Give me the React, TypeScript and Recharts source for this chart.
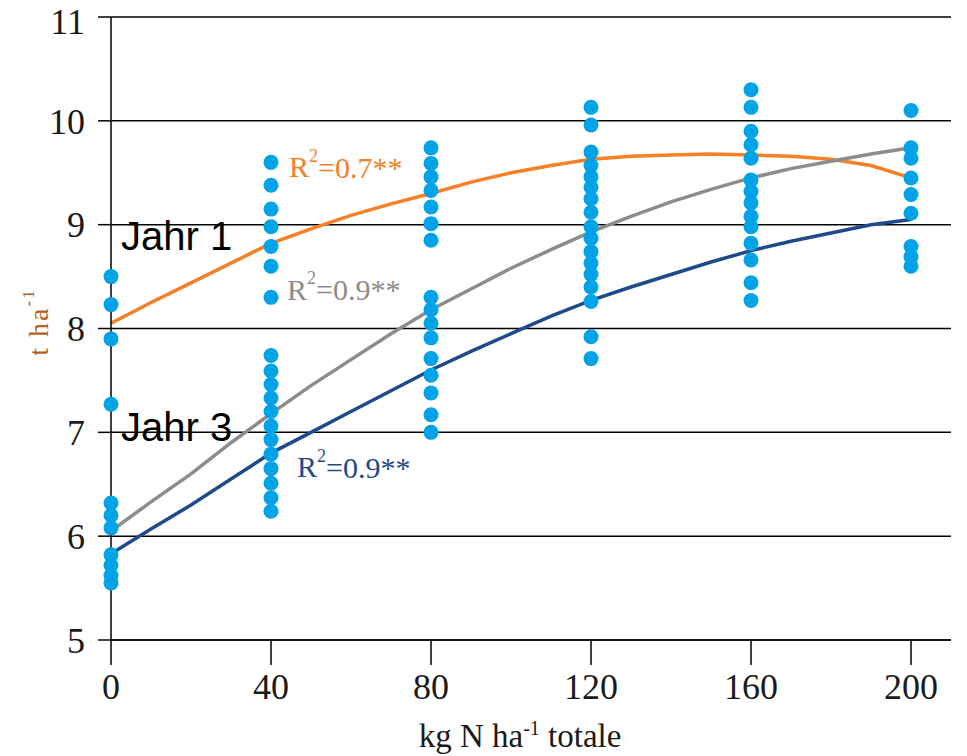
import { ComposedChart, Line, Scatter, XAxis, YAxis, CartesianGrid, ReferenceDot, Label } from "recharts";

// N rates (kg N/ha) and the observed yields (t/ha) at each rate
const doses = [0, 40, 80, 120, 160, 200];
const yieldsAt0 = [8.5, 8.23, 7.9, 7.27, 6.32, 6.2, 6.08, 5.82, 5.72, 5.62, 5.55];
const yieldsAt40 = [9.6, 9.38, 9.15, 8.98, 8.79, 8.6, 8.3, 7.74, 7.59, 7.46, 7.33, 7.2, 7.06, 6.93, 6.79, 6.65, 6.51, 6.37, 6.24];
const yieldsAt80 = [9.74, 9.59, 9.46, 9.33, 9.17, 9.01, 8.85, 8.3, 8.18, 8.05, 7.91, 7.71, 7.55, 7.38, 7.17, 7.0];
const yieldsAt120 = [10.13, 9.96, 9.7, 9.57, 9.46, 9.36, 9.25, 9.12, 8.98, 8.87, 8.74, 8.63, 8.52, 8.4, 8.26, 7.92, 7.71];
const yieldsAt160 = [10.3, 10.13, 9.9, 9.77, 9.64, 9.43, 9.32, 9.21, 9.08, 8.98, 8.82, 8.66, 8.44, 8.27];
const yieldsAt200 = [10.1, 9.74, 9.64, 9.45, 9.29, 9.11, 8.79, 8.69, 8.6];

const curveX = [0, 10, 20, 30, 40, 50, 60, 70, 80, 90, 100, 110, 120, 130, 140, 150, 160, 170, 180, 190, 200];
const jahr1Curve = [8.05, 8.25, 8.44, 8.63, 8.82, 8.96, 9.09, 9.2, 9.3, 9.41, 9.5, 9.57, 9.63, 9.66, 9.67, 9.68, 9.67, 9.66, 9.63, 9.57, 9.45];
const grayCurve = [6.05, 6.33, 6.6, 6.9, 7.18, 7.45, 7.7, 7.95, 8.18, 8.38, 8.58, 8.76, 8.93, 9.08, 9.22, 9.34, 9.45, 9.54, 9.61, 9.68, 9.74];
const jahr3Curve = [5.83, 6.07, 6.3, 6.55, 6.8, 7.0, 7.2, 7.4, 7.6, 7.78, 7.95, 8.12, 8.27, 8.4, 8.52, 8.64, 8.75, 8.84, 8.92, 9.0, 9.05];

const xTicks = [0, 40, 80, 120, 160, 200];
const yTicks = [5, 6, 7, 8, 9, 10, 11];

const allYields = [yieldsAt0, yieldsAt40, yieldsAt80, yieldsAt120, yieldsAt160, yieldsAt200];
const points = doses.flatMap((d, i) => allYields[i].map((y) => ({ x: d, y })));
const toLine = (vals: number[]) => curveX.map((x, i) => ({ x, y: vals[i] }));

const ORANGE = "#F58025";
const GRAY = "#8C8C8C";
const NAVY = "#1F4A8A";
const DOT = "#00A2E8";
const SERIF = "'Liberation Serif', serif";
const SANS = "'Liberation Sans', Arial, sans-serif";

const RLabel = ({ viewBox, color, value }: any) => (
  <text x={viewBox.x} y={viewBox.y} dominantBaseline="central" fill={color} fontFamily={SERIF} fontSize={30}>
    R<tspan dy={-11} fontSize={18}>2</tspan>
    <tspan dy={11} fontSize={30}>={value}**</tspan>
  </text>
);

const JahrLabel = ({ viewBox, value }: any) => (
  <text x={viewBox.x} y={viewBox.y} dominantBaseline="central" fill="#000" fontFamily={SANS} fontSize={40}>
    {value}
  </text>
);

const YTitle = () => {
  const cx = 38;
  const cy = 322;
  return (
    <text x={cx} y={cy} transform={`rotate(-90 ${cx} ${cy})`} textAnchor="middle" dominantBaseline="central" fill="#B5601C" fontFamily={SERIF} fontSize={28} letterSpacing={2}>
      t ha<tspan dy={-10} fontSize={17}>-1</tspan>
    </text>
  );
};

const XTitle = () => (
  <text x={520} y={747} textAnchor="middle" fill="#1a1a1a" fontFamily={SERIF} fontSize={33}>
    kg N ha<tspan dy={-12} fontSize={20}>-1</tspan>
    <tspan dy={12} fontSize={33}> totale</tspan>
  </text>
);

const Dot = (props: any) => <circle cx={props.cx} cy={props.cy} r={7.5} fill={DOT} />;

export default function App() {
  return (
    <div style={{ position: "absolute", left: 0, top: 0, background: "#fff" }}>
      <ComposedChart width={967} height={756} margin={{ top: 17, right: 16, bottom: 0, left: 0 }}>
        <CartesianGrid vertical={false} stroke="#000" strokeWidth={1.5} />
        <XAxis
          type="number"
          dataKey="x"
          domain={[0, 200]}
          ticks={xTicks}
          padding={{ left: 0, right: 40 }}
          height={116}
          tickSize={25}
          tickMargin={8}
          axisLine={{ stroke: "#000", strokeWidth: 1.5 }}
          tickLine={{ stroke: "#000", strokeWidth: 1.5 }}
          tick={{ fontSize: 36, fill: "#1a1a1a", fontFamily: SERIF }}
        >
          <Label content={<XTitle />} />
        </XAxis>
        <YAxis
          type="number"
          dataKey="y"
          domain={[5, 11]}
          ticks={yTicks}
          width={111}
          tickSize={13}
          tickMargin={13}
          axisLine={{ stroke: "#000", strokeWidth: 1.5 }}
          tickLine={{ stroke: "#000", strokeWidth: 1.5 }}
          tick={{ fontSize: 36, fill: "#1a1a1a", fontFamily: SERIF }}
        >
          <Label content={<YTitle />} />
        </YAxis>
        <YAxis
          yAxisId="frame"
          orientation="right"
          type="number"
          domain={[5, 11]}
          width={0}
          tick={false}
          tickLine={false}
          axisLine={{ stroke: "#000", strokeWidth: 1.5 }}
        />
        <Line data={toLine(jahr1Curve)} dataKey="y" stroke={ORANGE} strokeWidth={3.5} dot={false} isAnimationActive={false} />
        <Line data={toLine(grayCurve)} dataKey="y" stroke={GRAY} strokeWidth={3.5} dot={false} isAnimationActive={false} />
        <Line data={toLine(jahr3Curve)} dataKey="y" stroke={NAVY} strokeWidth={3.5} dot={false} isAnimationActive={false} />
        <Scatter data={points} dataKey="y" shape={Dot} isAnimationActive={false} />
        <ReferenceDot x={44.75} y={9.55} r={1} fill="none" stroke="none" label={<RLabel color={ORANGE} value="0.7" />} />
        <ReferenceDot x={44.25} y={8.37} r={1} fill="none" stroke="none" label={<RLabel color={GRAY} value="0.9" />} />
        <ReferenceDot x={46.75} y={6.66} r={1} fill="none" stroke="none" label={<RLabel color={NAVY} value="0.9" />} />
        <ReferenceDot x={2.75} y={8.88} r={1} fill="none" stroke="none" label={<JahrLabel value="Jahr 1" />} />
        <ReferenceDot x={2.75} y={7.04} r={1} fill="none" stroke="none" label={<JahrLabel value="Jahr 3" />} />
      </ComposedChart>
    </div>
  );
}
